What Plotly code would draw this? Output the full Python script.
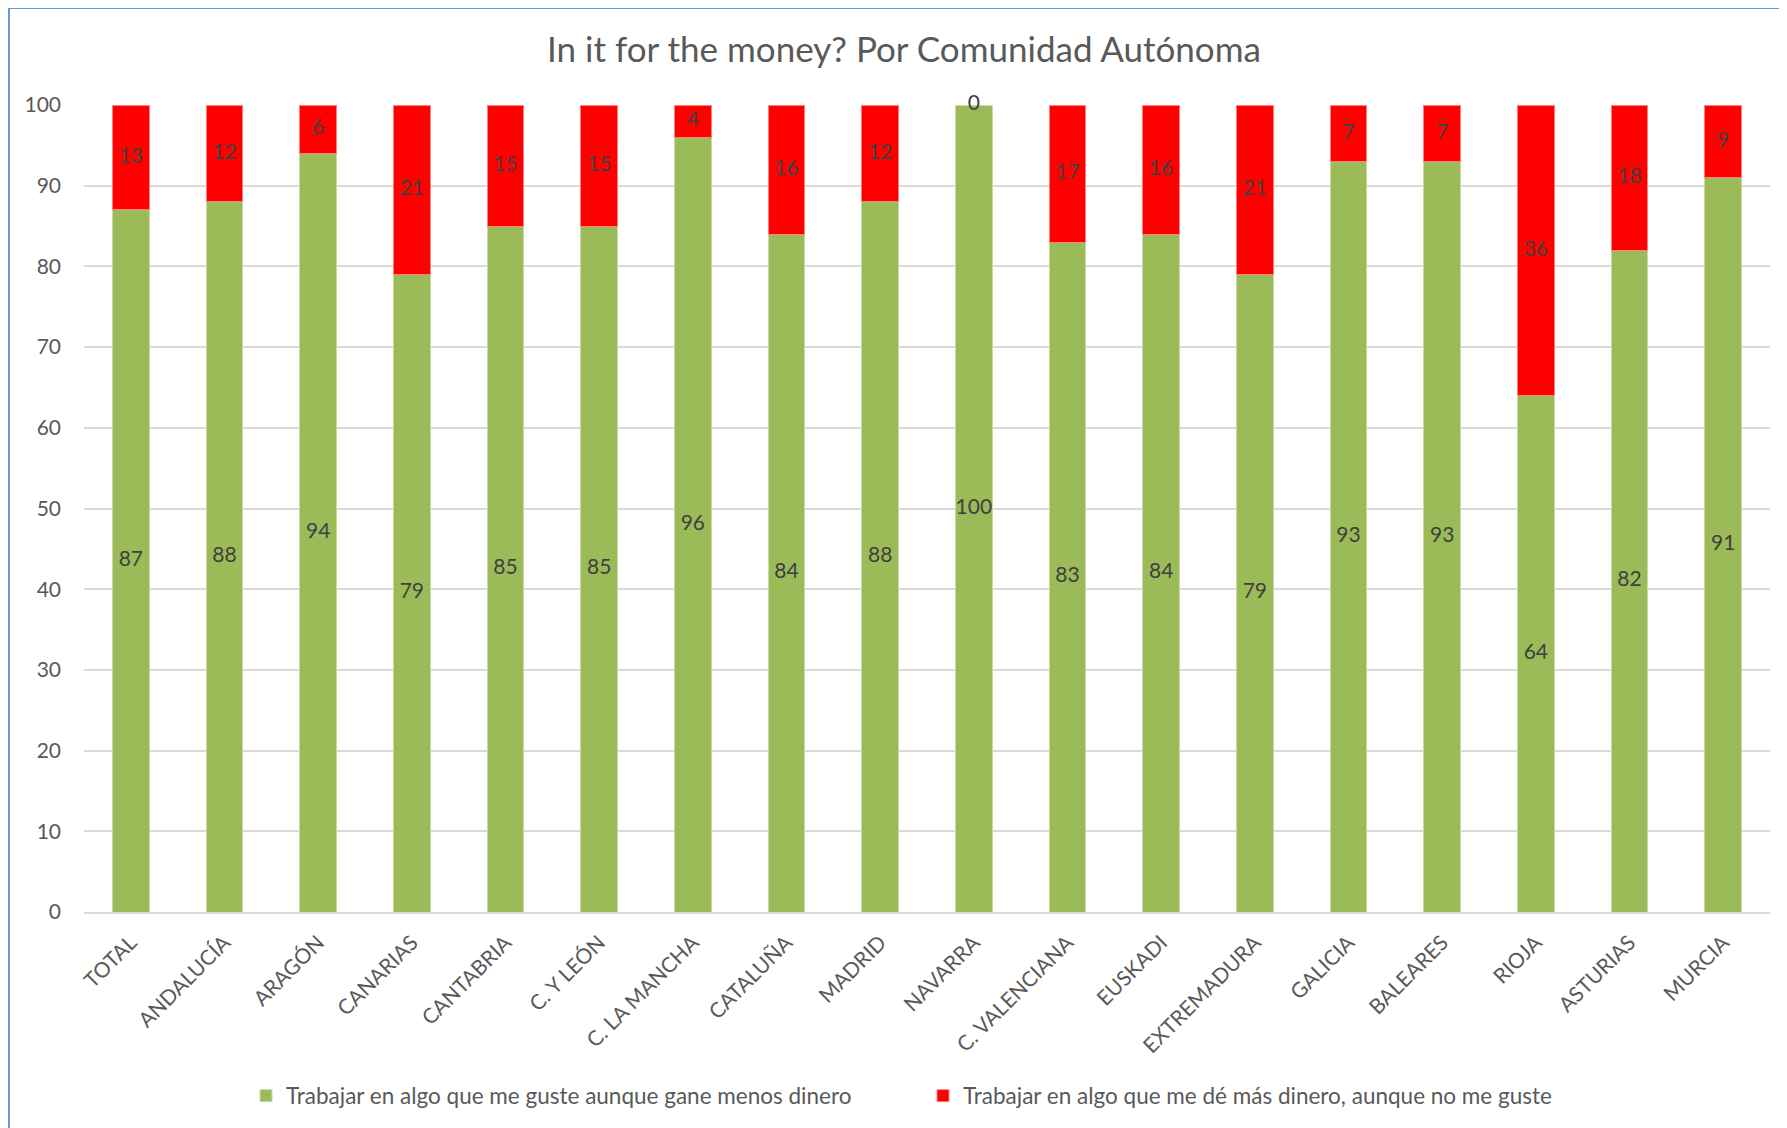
import plotly.graph_objects as go

regiones = ['TOTAL', 'ANDALUCÍA', 'ARAGÓN', 'CANARIAS', 'CANTABRIA', 'C. Y LEÓN',
            'C. LA MANCHA', 'CATALUÑA', 'MADRID', 'NAVARRA', 'C. VALENCIANA',
            'EUSKADI', 'EXTREMADURA', 'GALICIA', 'BALEARES', 'RIOJA', 'ASTURIAS', 'MURCIA']
gusta = [87, 88, 94, 79, 85, 85, 96, 84, 88, 100, 83, 84, 79, 93, 93, 64, 82, 91]
dinero = [13, 12, 6, 21, 15, 15, 4, 16, 12, 0, 17, 16, 21, 7, 7, 36, 18, 9]

nombre_gusta = 'Trabajar en algo que me guste aunque gane menos dinero'
nombre_dinero = 'Trabajar en algo que me dé más dinero, aunque no me guste'

W, H = 1787, 1128
OFF = 8  # margen del body de la página
L, R, T = 84 - OFF, W - (1770 - OFF), 105 - OFF
B = H - (912 - OFF)
pw, ph = W - L - R, H - T - B

fuente = 'Lato, Open Sans, sans-serif'
gris = '#595959'
etiqueta = '#404040'

fig = go.Figure()
fig.add_trace(go.Bar(x=regiones, y=gusta, name=nombre_gusta,
                     marker=dict(color='#9BBB59', line=dict(color='#C9DCA8', width=1))))
fig.add_trace(go.Bar(x=regiones, y=dinero, name=nombre_dinero,
                     marker=dict(color='#FF0000',
                                 line=dict(color='#FF8080', width=[1 if v else 0 for v in dinero]))))

# etiquetas de datos en el centro de cada tramo
pos_gusta = [g / 2 for g in gusta]
pos_dinero = [g + d / 2 for g, d in zip(gusta, dinero)]
fig.add_trace(go.Scatter(x=regiones, y=pos_gusta, mode='text', text=[str(v) for v in gusta],
                         textfont=dict(family=fuente, size=21, color=etiqueta),
                         showlegend=False, hoverinfo='skip', cliponaxis=False))
fig.add_trace(go.Scatter(x=regiones, y=pos_dinero, mode='text', text=[str(v) for v in dinero],
                         textfont=dict(family=fuente, size=21, color=etiqueta),
                         showlegend=False, hoverinfo='skip', cliponaxis=False))

fig.update_layout(
    barmode='stack',
    bargap=0.61,
    width=W, height=H,
    margin=dict(l=L, r=R, t=T, b=B, autoexpand=False),
    paper_bgcolor='white', plot_bgcolor='white',
    font=dict(family=fuente, color=gris),
    title=dict(text='In it for the money? Por Comunidad Autónoma',
               x=(904 - OFF) / W, xanchor='center', y=1 - (50 - OFF) / H, yanchor='middle',
               font=dict(size=35, color=gris)),
    legend=dict(orientation='h', x=(923 - OFF - L) / pw, xanchor='center',
                y=(912 - 1096) / ph, yanchor='middle',
                font=dict(size=22.5, color=gris), entrywidth=632, itemwidth=30,
                traceorder='normal'),
    showlegend=True,
)
fig.update_yaxes(range=[0, 100], dtick=10, showgrid=True, gridcolor='#D9D9D9', gridwidth=2,
                 zeroline=False, tickfont=dict(size=21, color=gris), ticks='',
                 ticklabelstandoff=22, automargin=False)
fig.update_xaxes(range=[-0.5, len(regiones) - 0.5], tickangle=-45,
                 tickfont=dict(size=21, color=gris), showline=True,
                 linecolor='#D9D9D9', linewidth=2, ticks='', ticklabelstandoff=8,
                 automargin=False)

# marco azul del gráfico
fig.add_shape(type='rect', xref='paper', yref='paper',
              x0=(9 - OFF - L) / pw, x1=(1785 - OFF - L) / pw,
              y0=(912 - 1140) / ph, y1=(912 - 8) / ph,
              line=dict(color='#6A97CF', width=2), layer='below')

fig.write_html('out.html')
